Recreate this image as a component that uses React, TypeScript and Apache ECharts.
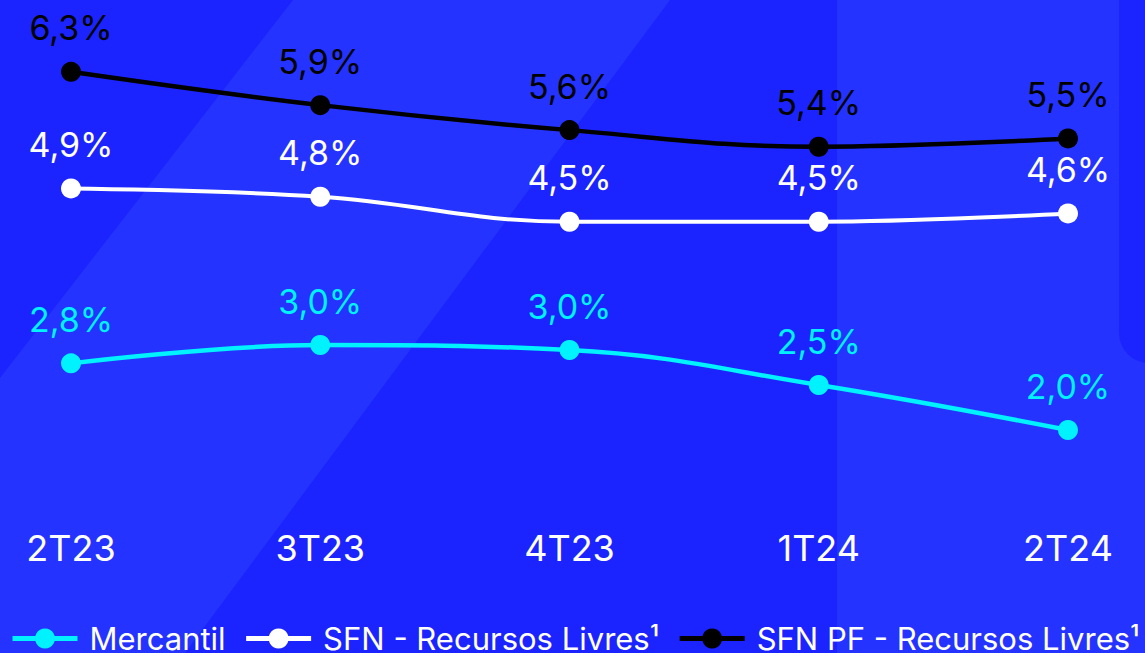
import React, { useEffect, useRef } from "react";
import * as echarts from "echarts";

const categories = ["2T23", "3T23", "4T23", "1T24", "2T24"];
const mercantil = [2.8, 3.02, 2.96, 2.54, 2.0];
const sfnLivres = [4.9, 4.8, 4.5, 4.5, 4.6];
const sfnPfLivres = [6.3, 5.9, 5.6, 5.4, 5.5];
const seriesNames = ["Mercantil", "SFN - Recursos Livres¹", "SFN PF - Recursos Livres¹"];

const DARK = "#1B24FF";
const LIGHT = "#2433FF";
const CYAN = "#00F2FF";
const FONT = "Inter";

const fmt = (p: any) => Number(p.value).toFixed(1).replace(".", ",") + "%";

export default function App() {
  const ref = useRef<HTMLDivElement>(null);
  useEffect(() => {
    if (!ref.current) return;
    const chart = echarts.init(ref.current, undefined, { renderer: "svg" });
    const mk = (name: string, data: number[], color: string, lw: number) => ({
      name,
      type: "line",
      data,
      smooth: 0.4,
      symbol: "circle",
      symbolSize: 20,
      lineStyle: { color, width: lw },
      itemStyle: { color },
      label: {
        show: true,
        position: "top",
        distance: 17,
        formatter: fmt,
        color,
        fontFamily: FONT,
        fontSize: 34,
      },
    });
    chart.setOption({
      animation: false,
      backgroundColor: DARK,
      textStyle: { fontFamily: FONT },
      graphic: [
        {
          type: "polygon",
          z: -10,
          silent: true,
          shape: { points: [[293, 0], [670, 0], [185, 653], [0, 653], [0, 378]] },
          style: { fill: LIGHT },
        },
        {
          type: "rect",
          z: -10,
          silent: true,
          shape: { x: 837, y: 0, width: 308, height: 653 },
          style: { fill: LIGHT },
        },
        {
          type: "rect",
          z: -9,
          silent: true,
          shape: { x: 1119, y: -40, width: 80, height: 403, r: 30 },
          style: { fill: DARK },
        },
      ],
      grid: { left: 71, right: 77, top: 13.5, bottom: 139.7, containLabel: false, outerBoundsMode: "none" },
      legend: {
        left: 10,
        top: 623,
        width: 2000,
        padding: 0,
        itemWidth: 65,
        itemHeight: 25,
        itemGap: 18,
        data: seriesNames,
        lineStyle: { width: 5 },
        textStyle: { color: "#FFFFFF", fontSize: 31, fontFamily: FONT, padding: [0, 0, 0, 7] },
      },
      xAxis: {
        type: "category",
        data: categories,
        boundaryGap: false,
        axisLine: { show: false },
        axisTick: { show: false },
        axisLabel: { color: "#FFFFFF", fontSize: 36, fontFamily: FONT, margin: 17 },
      },
      yAxis: {
        type: "value",
        min: 1,
        max: 7,
        show: false,
        splitLine: { show: false },
      },
      series: [
        mk(seriesNames[0], mercantil, CYAN, 4.5),
        mk(seriesNames[1], sfnLivres, "#FFFFFF", 4),
        mk(seriesNames[2], sfnPfLivres, "#000000", 4.5),
      ],
    });
    return () => chart.dispose();
  }, []);
  return (
    <div
      ref={ref}
      style={{ position: "fixed", left: 0, top: 0, width: 1145, height: 653 }}
    />
  );
}
